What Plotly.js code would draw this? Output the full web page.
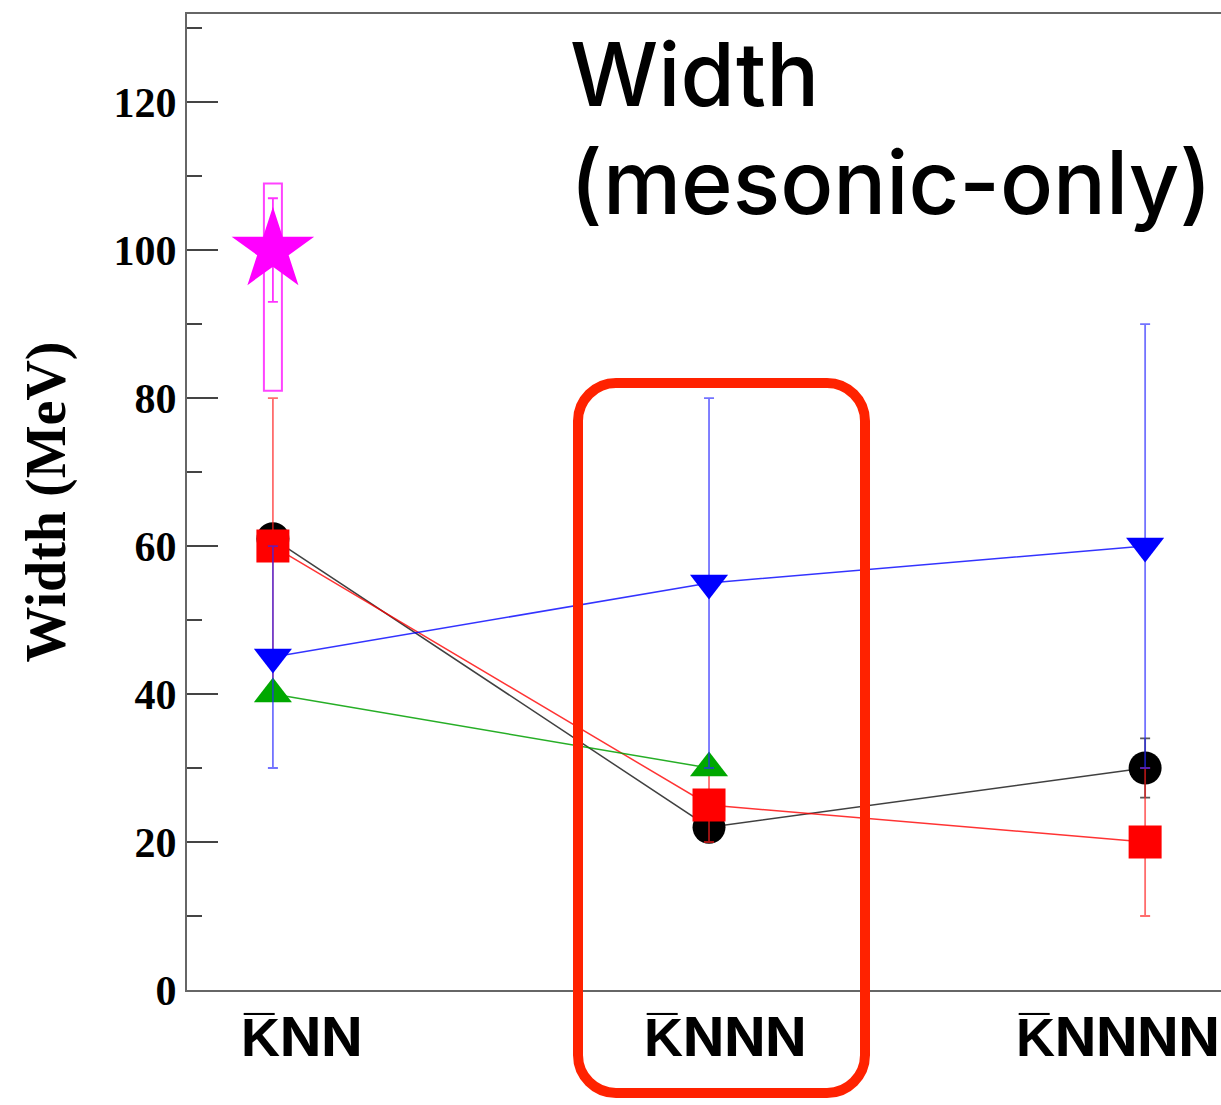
<!DOCTYPE html>
<html><head><meta charset="utf-8">
<script src="https://cdn.plot.ly/plotly-3.0.1.min.js"></script>
<style>html,body{margin:0;padding:0;background:#fff}</style>
</head><body><div id="chart" style="width:1221px;height:1105px"></div>
<script>
// ---- data ----
const categories = ["K\u0305NN", "K\u0305NNN", "K\u0305NNNN"];
const catIndex = [0, 1, 2];
const blackWidth = [61, 22, 30];
const blackErr = [0, 0, 4];
const redWidth = [60, 25, 20];
const redErr = [20, 5, 10];
const greenIndex = [0, 1];
const greenWidth = [40, 30];
const blueWidth = [45, 55, 60];
const blueErr = [15, 25, 30];
const starIndex = [0];
const starWidth = [100];
const starErr = [7];
const starSysLow = [19];
const starSysHigh = [9];
const titleLines = ["Width", "(mesonic-only)"];
const yTitle = "Width (MeV)";

// ---- geometry helpers (page pixels -> paper) ----
const W = 1221, H = 1105;
const M = {l: 187, r: 0, t: 14, b: 115};
const PW = W - M.l - M.r, PH = H - M.t - M.b;
const px = p => (p - M.l) / PW;
const py = p => (H - M.b - p) / PH;

function roundedRectPath(x0, y0, x1, y1, r) {
  const k = 0.5523 * r;
  const P = (x, y) => px(x).toFixed(5) + ',' + py(y).toFixed(5);
  return 'M' + P(x0 + r, y0) +
    ' L' + P(x1 - r, y0) +
    ' C' + P(x1 - r + k, y0) + ' ' + P(x1, y0 + r - k) + ' ' + P(x1, y0 + r) +
    ' L' + P(x1, y1 - r) +
    ' C' + P(x1, y1 - r + k) + ' ' + P(x1 - r + k, y1) + ' ' + P(x1 - r, y1) +
    ' L' + P(x0 + r, y1) +
    ' C' + P(x0 + r - k, y1) + ' ' + P(x0, y1 - r + k) + ' ' + P(x0, y1 - r) +
    ' L' + P(x0, y0 + r) +
    ' C' + P(x0, y0 + r - k) + ' ' + P(x0 + r - k, y0) + ' ' + P(x0 + r, y0) + ' Z';
}

const err = (arr, color) => ({type: 'data', array: arr, visible: true, color: color, thickness: 1.8, width: 5});

const traces = [
  {x: catIndex, y: blackWidth, mode: 'lines+markers', name: 'black',
   line: {color: 'rgba(0,0,0,0.75)', width: 1.5},
   marker: {symbol: 'circle', size: 33, color: '#000'},
   error_y: err(blackErr, 'rgba(0,0,0,0.65)')},
  {x: catIndex, y: redWidth, mode: 'lines+markers', name: 'red',
   line: {color: 'rgba(255,0,0,0.8)', width: 1.5},
   marker: {symbol: 'square', size: 33, color: '#ff0000'},
   error_y: err(redErr, 'rgba(255,30,30,0.65)')},
  {x: greenIndex, y: greenWidth, mode: 'lines+markers', name: 'green',
   line: {color: 'rgba(0,160,0,0.85)', width: 1.5},
   marker: {symbol: 'triangle-up', size: 33, color: '#00a800'}},
  {x: catIndex, y: blueWidth, mode: 'lines+markers', name: 'blue',
   line: {color: 'rgba(0,0,255,0.8)', width: 1.5},
   marker: {symbol: 'triangle-down', size: 33, color: '#0000ff'},
   error_y: err(blueErr, 'rgba(40,40,255,0.65)')},
  {x: starIndex, y: starWidth, mode: 'markers', name: 'star',
   marker: {symbol: 'star', size: 62, color: '#ff00ff'},
   error_y: err(starErr, 'rgba(255,0,255,0.8)')}
];

const annotations = [];
// titles
annotations.push({xref: 'paper', yref: 'paper', x: px(568), y: py(19), xanchor: 'left', yanchor: 'top',
  text: titleLines[0], showarrow: false,
  font: {family: 'Inter, Noto Sans, sans-serif', size: 88, color: '#000', weight: 550}});
annotations.push({xref: 'paper', yref: 'paper', x: px(568), y: py(127), xanchor: 'left', yanchor: 'top',
  text: titleLines[1], showarrow: false,
  font: {family: 'Inter, Noto Sans, sans-serif', size: 88, color: '#000', weight: 550}});
// category labels
const labelShift = [29, 16, -27];
categories.forEach((c, i) => {
  annotations.push({xref: 'x', yref: 'paper', x: catIndex[i], xshift: labelShift[i], y: py(1002), xanchor: 'center', yanchor: 'top',
    text: c, showarrow: false,
    font: {family: 'Inter, Liberation Sans, Arial, sans-serif', size: 54, color: '#000', weight: 700}});
});

const shapes = [
  {type: 'rect', xref: 'x', yref: 'y', xsizemode: 'pixel', xanchor: starIndex[0], x0: -9, x1: 9,
   y0: starWidth[0] - starSysLow[0], y1: starWidth[0] + starSysHigh[0],
   line: {color: '#ff44ff', width: 2}, fillcolor: 'rgba(0,0,0,0)', layer: 'below'},
  {type: 'path', xref: 'paper', yref: 'paper', path: roundedRectPath(578, 383, 865, 1093, 38),
   line: {color: '#ff2200', width: 10}, fillcolor: 'rgba(0,0,0,0)', layer: 'above'}
];

const layout = {
  width: W, height: H,
  margin: M,
  paper_bgcolor: '#fff', plot_bgcolor: '#fff',
  showlegend: false,
  xaxis: {range: [-0.197, 2.174], showgrid: false, zeroline: false, showticklabels: false, ticks: '',
          showline: true, mirror: true, linecolor: '#666', linewidth: 2},
  yaxis: {range: [0, 131.9], showgrid: false, zeroline: false, tickmode: 'linear', tick0: 0, dtick: 20,
          ticks: 'inside', ticklen: 31, tickwidth: 1.5, tickcolor: '#444',
          minor: {dtick: 10, ticks: 'inside', ticklen: 15, tickwidth: 1.5, tickcolor: '#444'},
          showline: true, linecolor: '#666', linewidth: 2,
          tickfont: {family: 'Liberation Serif, Times New Roman, serif', size: 42, color: '#000', weight: 700},
          title: {text: yTitle, standoff: 30,
                  font: {family: 'Liberation Serif, Times New Roman, serif', size: 56, color: '#000', weight: 700}}},
  annotations: annotations,
  shapes: shapes
};

Plotly.newPlot('chart', traces, layout, {displayModeBar: false, staticPlot: true});
</script>
</body></html>
